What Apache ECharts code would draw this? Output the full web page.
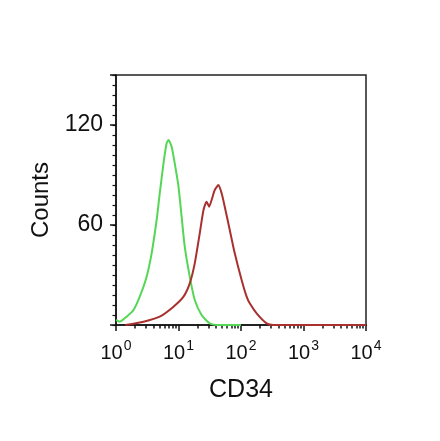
<!DOCTYPE html>
<html>
<head>
<meta charset="utf-8">
<script src="https://cdn.jsdelivr.net/npm/echarts@6/dist/echarts.min.js"></script>
<style>
html,body{margin:0;padding:0;background:#fff;}
#chart{width:440px;height:441px;}
</style>
</head>
<body>
<div id="chart"></div>
<script>
// x values are log10(CD34 intensity), y values are counts
const xExponents = [0, 1, 2, 3, 4];
const yLabelValues = [60, 120];
const yMajorTicks = [0, 60, 120, 150];
const greenLogX = [0.00,0.06,0.17,0.28,0.38,0.49,0.57,0.65,0.70,0.76,0.81,0.84,0.89,0.94,1.00,1.05,1.10,1.18,1.26,1.37,1.50,1.66,2.00];
const greenCounts = [3,2,5,9,17,29,43,63,79,97,109,111,107,97,83,65,47,29,15,6,1,0,0];
const redLogX = [0.15,0.44,0.70,0.92,1.08,1.18,1.26,1.34,1.40,1.45,1.49,1.53,1.58,1.64,1.69,1.74,1.82,1.90,2.01,2.09,2.14,2.25,2.41,2.52,3.00,4.00];
const redCounts = [0,2,5,11,17,25,37,55,69,74,71,75,81,84,79,71,57,43,27,17,13,7,1,0,0,0];

const minorX = [];
xExponents.slice(0, -1).forEach(function (d) {
  for (let k = 2; k <= 9; k++) minorX.push(d + Math.log10(k));
});
const minorY = [];
for (let v = 0; v <= 150; v += 6) minorY.push(v);

const chart = echarts.init(document.getElementById('chart'), null, {renderer: 'canvas'});
const FONT = 'Liberation Sans, Arial, sans-serif';
chart.setOption({
  animation: false,
  backgroundColor: '#ffffff',
  grid: {left: 116, right: 74, top: 75, bottom: 116, show: true, borderColor: '#222', borderWidth: 1.5, backgroundColor: 'transparent'},
  xAxis: [{
    type: 'value', min: 0, max: 4,
    name: 'CD34', nameLocation: 'middle', nameGap: 53,
    nameTextStyle: {fontFamily: FONT, fontSize: 25, color: '#111'},
    axisLine: {show: true, lineStyle: {color: '#111', width: 1.5}},
    axisTick: {show: true, length: 6, customValues: xExponents, lineStyle: {color: '#111', width: 1.5}},
    axisLabel: {
      customValues: xExponents, margin: 14,
      formatter: function (v) { return '{b|10}{s|' + Math.round(v) + '}'; },
      rich: {
        b: {fontFamily: FONT, fontSize: 20, color: '#111', verticalAlign: 'bottom', lineHeight: 24},
        s: {fontFamily: FONT, fontSize: 14, color: '#111', verticalAlign: 'top', padding: [0, 0, 9, 1], lineHeight: 24}
      }
    },
    splitLine: {show: false}
  }, {
    type: 'value', min: 0, max: 4, position: 'bottom',
    axisLine: {show: false},
    axisTick: {show: true, length: 3.5, customValues: minorX, lineStyle: {color: '#111', width: 1.5}},
    axisLabel: {show: false},
    splitLine: {show: false}
  }],
  yAxis: [{
    type: 'value', min: 0, max: 150,
    name: 'Counts', nameLocation: 'middle', nameGap: 60, nameRotate: 90,
    nameTextStyle: {fontFamily: FONT, fontSize: 24, color: '#111'},
    axisLine: {show: true, lineStyle: {color: '#111', width: 1.5}},
    axisTick: {show: true, length: 6, customValues: yMajorTicks, lineStyle: {color: '#111', width: 1.5}},
    axisLabel: {customValues: yLabelValues, margin: 13, fontFamily: FONT, fontSize: 23, color: '#111'},
    splitLine: {show: false}
  }, {
    type: 'value', min: 0, max: 150, position: 'left',
    axisLine: {show: false},
    axisTick: {show: true, length: 3.5, customValues: minorY, lineStyle: {color: '#111', width: 1.2}},
    axisLabel: {show: false},
    splitLine: {show: false}
  }],
  series: [{
    type: 'line', name: 'Isotype', xAxisIndex: 0, yAxisIndex: 0,
    data: greenLogX.map(function (x, i) { return [x, greenCounts[i]]; }),
    symbol: 'none', smooth: 0.2,
    lineStyle: {color: '#55d655', width: 2}
  }, {
    type: 'line', name: 'CD34', xAxisIndex: 0, yAxisIndex: 0,
    data: redLogX.map(function (x, i) { return [x, redCounts[i]]; }),
    symbol: 'none', smooth: 0.2,
    lineStyle: {color: '#a8312f', width: 2}
  }]
});
</script>
</body>
</html>
